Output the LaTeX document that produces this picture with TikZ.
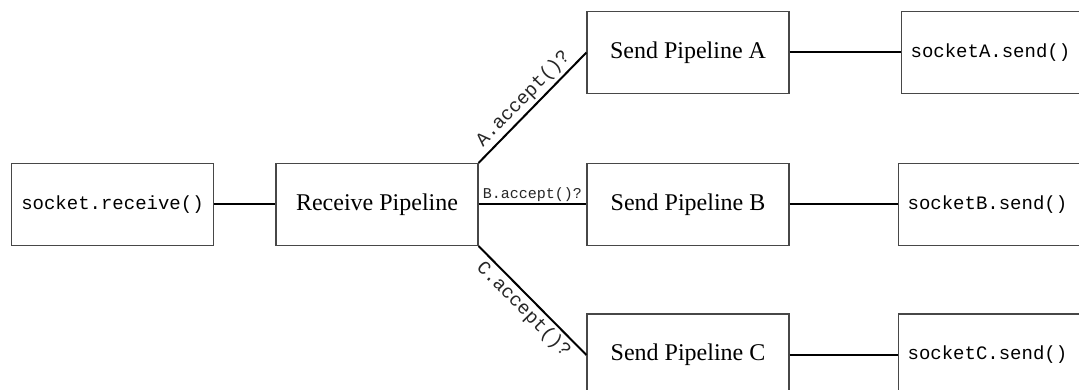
\documentclass[tikz,border=0pt]{standalone}
\usepackage{fontspec}
\setmainfont{Liberation Serif}
\setmonofont{Liberation Mono}
\begin{document}
\begin{tikzpicture}[x=1pt,y=-1pt,
  box/.style={draw=black!72, line width=1.2pt, minimum width=202pt, minimum height=82pt, inner sep=0pt, text=black},
  serifbox/.style={box, font=\fontsize{24}{28}\selectfont},
  monobox/.style={box, font=\ttfamily\fontsize{19}{22}\selectfont},
  sendbox/.style={monobox, minimum width=0pt, text width=172pt, align=left, inner xsep=9pt},
  conn/.style={line width=2pt, black},
  lab/.style={font=\ttfamily\fontsize{19}{22}\selectfont, inner sep=3pt, text=black!85},
  labsmall/.style={font=\ttfamily\fontsize{15}{18}\selectfont, inner sep=2pt, text=black!85}]
\clip (0,0) rectangle (1079,390);
\fill[white] (0,0) rectangle (1079,390);
\node[monobox] (recv) at (112.5,204.5) {socket.receive()};
\node[serifbox] (rp) at (377,204.5) {Receive Pipeline};
\node[serifbox] (A) at (688,52.5) {Send Pipeline A};
\node[serifbox] (B) at (688,204.5) {Send Pipeline B};
\node[serifbox] (C) at (688,355) {Send Pipeline C};
\node[sendbox, anchor=west] (sA) at (901,52.5) {socketA.send()};
\node[sendbox, anchor=west] (sB) at (898,204.5) {socketB.send()};
\node[sendbox, anchor=west] (sC) at (898,355) {socketC.send()};
\draw[conn] (recv.east) -- (rp.west);
\draw[conn] (rp.north east) -- node[sloped, above, lab] {A.accept()?} (A.west);
\draw[conn] (rp.east) -- node[above, labsmall] {B.accept()?} (B.west);
\draw[conn] (rp.south east) -- node[sloped, below, lab] {C.accept()?} (C.west);
\draw[conn] (A.east) -- (sA.west);
\draw[conn] (B.east) -- (sB.west);
\draw[conn] (C.east) -- (sC.west);
\end{tikzpicture}
\end{document}
